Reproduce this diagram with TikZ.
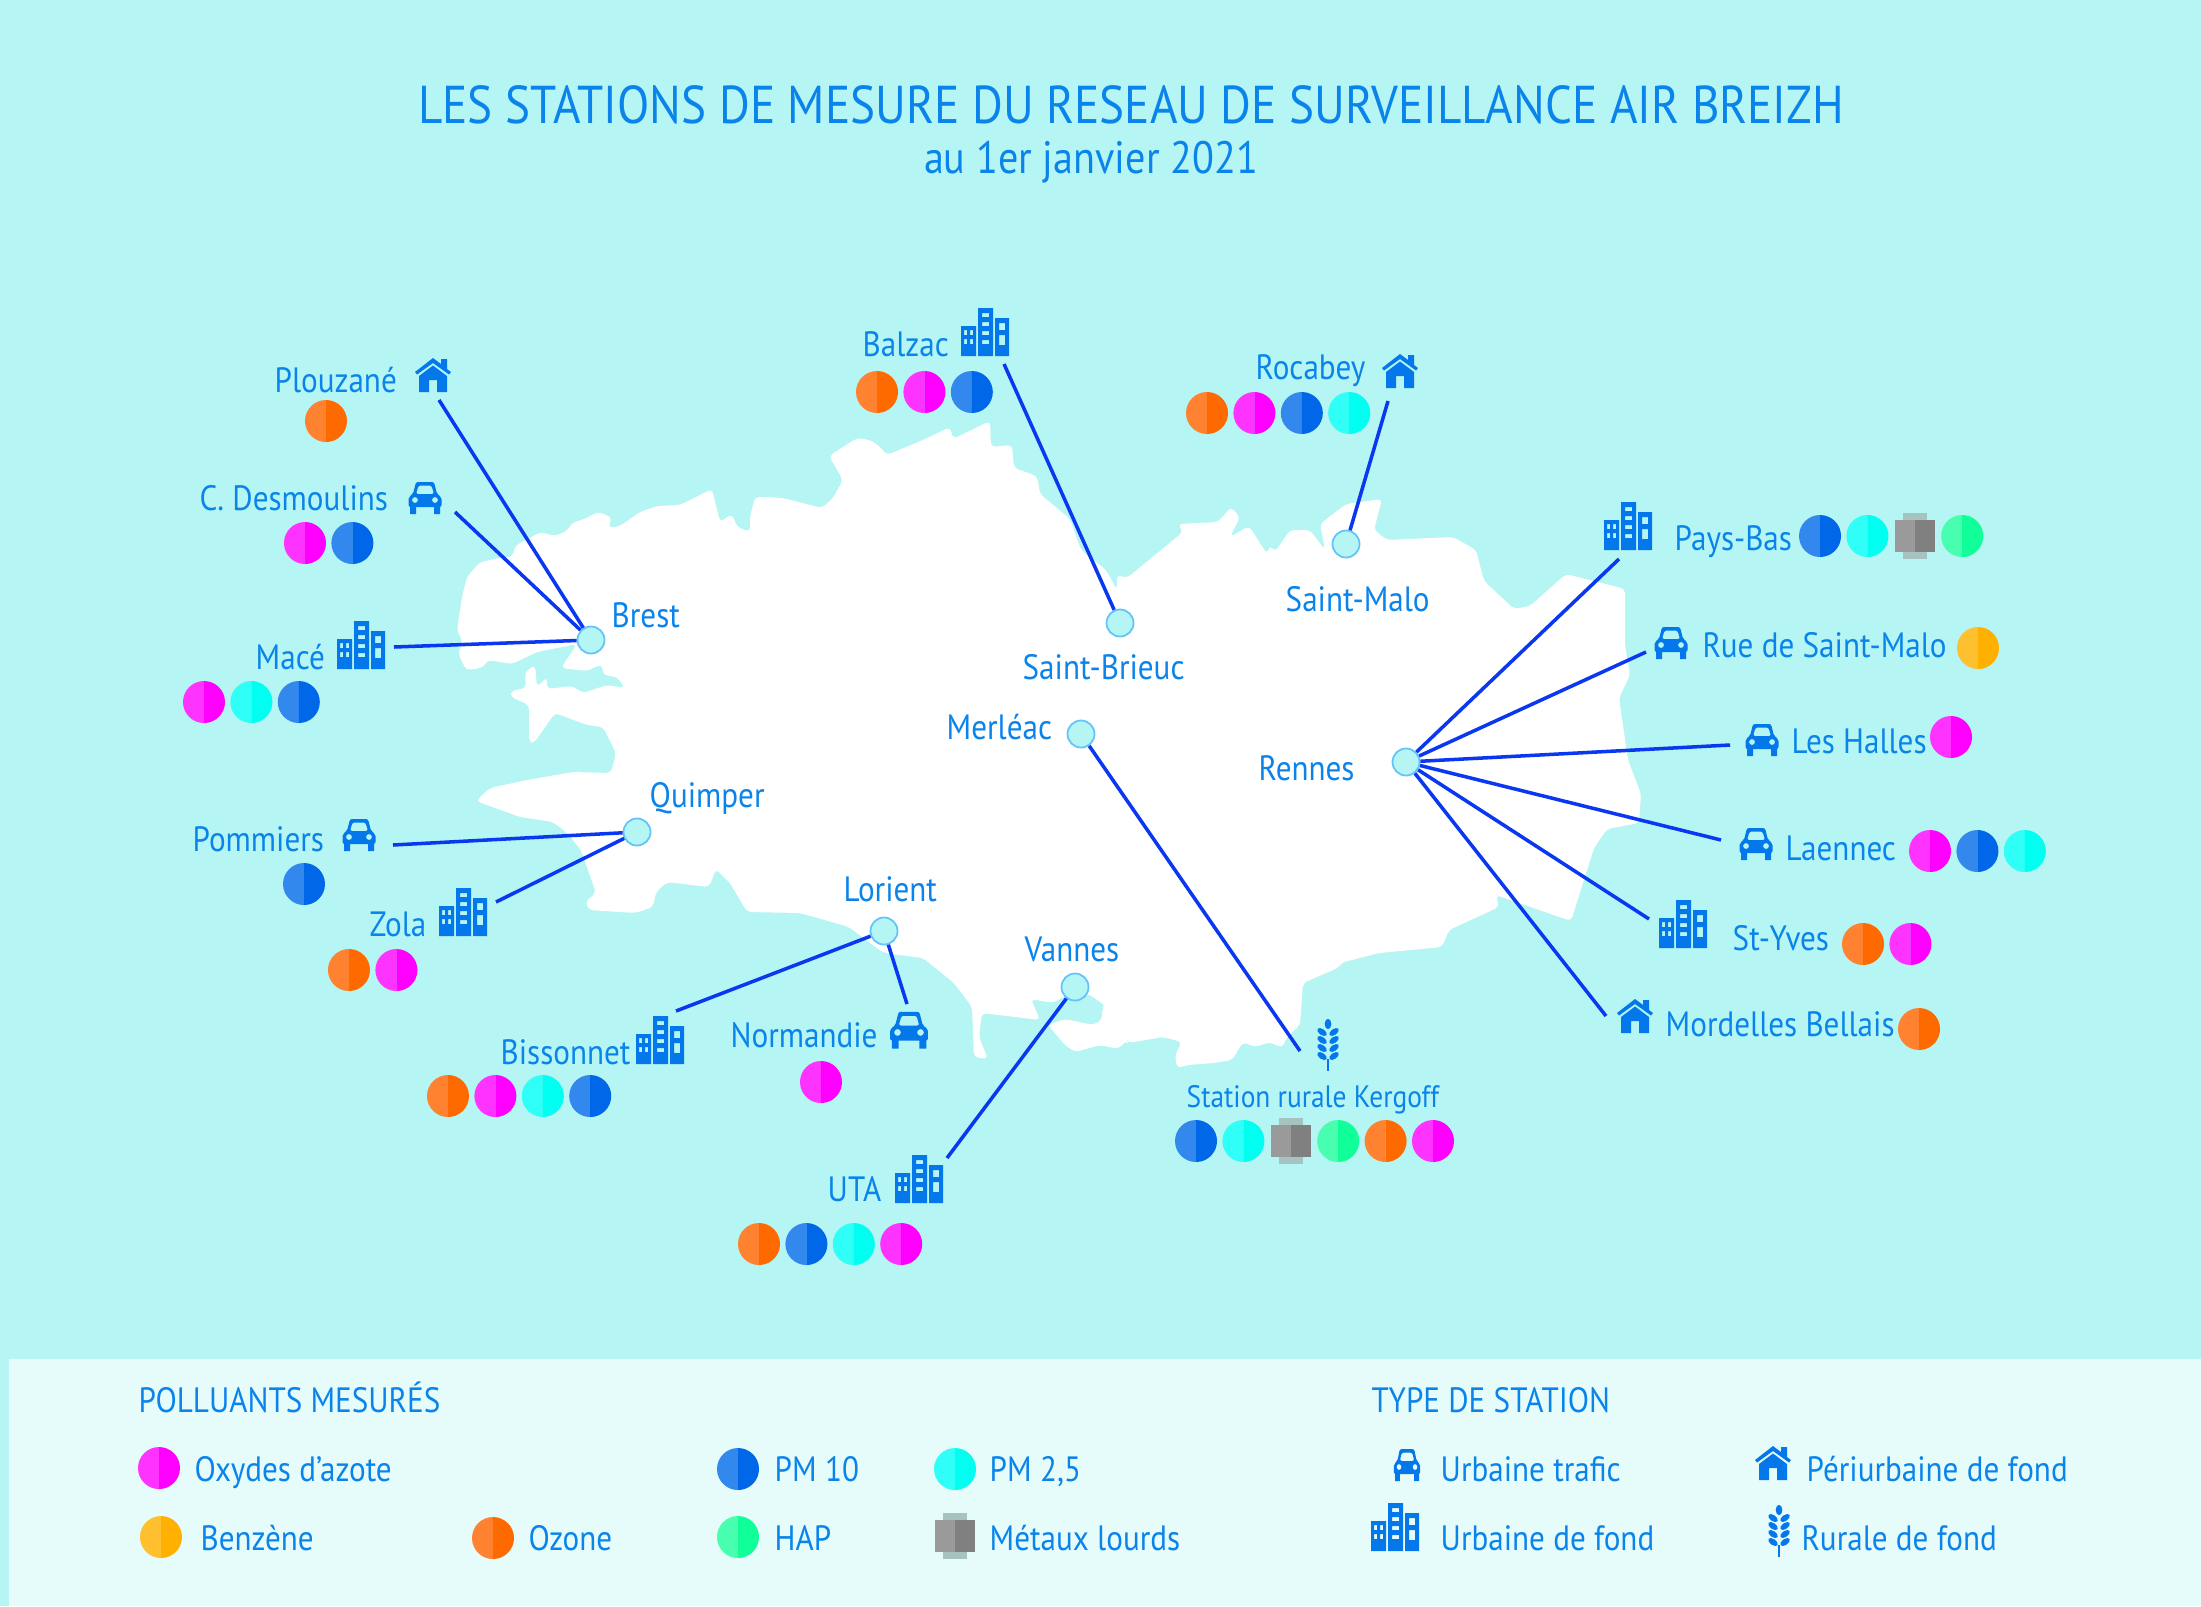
\documentclass[tikz,border=0pt]{standalone}
\usepackage{fontspec}
\setmainfont[FakeStretch=0.885]{PT Sans}
\usetikzlibrary{positioning}

\definecolor{sea}{HTML}{B5F5F3}
\definecolor{band}{HTML}{E6FCFA}
\definecolor{ink}{HTML}{0A84EA}
\definecolor{iconblue}{HTML}{0478EA}
\definecolor{wire}{HTML}{0A38F0}
\definecolor{hubline}{HTML}{62C4FA}
\definecolor{noxL}{HTML}{FF33FF}
\definecolor{noxR}{HTML}{FF00FF}
\definecolor{ozoneL}{HTML}{FF8230}
\definecolor{ozoneR}{HTML}{FF6A00}
\definecolor{pmtenL}{HTML}{3388EE}
\definecolor{pmtenR}{HTML}{0068E8}
\definecolor{pmfineL}{HTML}{30FFF8}
\definecolor{pmfineR}{HTML}{00FFF0}
\definecolor{hapL}{HTML}{48FFB0}
\definecolor{hapR}{HTML}{10FF98}
\definecolor{benzL}{HTML}{FFC030}
\definecolor{benzR}{HTML}{FFB000}
\definecolor{metalL}{HTML}{9A9A9A}
\definecolor{metalR}{HTML}{808080}

\tikzset{
  txt/.style={text=ink, font=\fontsize{10}{12}\selectfont, inner sep=0pt, anchor=west, text height=9pt, text depth=1.8pt},
  hub/.style={circle, fill=sea, draw=hubline, line width=0.5pt, minimum size=0.27cm, inner sep=0pt},
  link/.style={wire, line width=1pt},
  pics/dot/.style={code={
    \fill[fill=#1L] (0,-21) arc[start angle=90, end angle=270, radius=0.21cm] -- cycle;
    \fill[fill=#1R] (0,-21) arc[start angle=90, end angle=-90, radius=0.21cm] -- cycle;
  }},
  pics/metal/.style={code={
    \fill[metalL!55!sea] (-12,-23) rectangle (12,23);
    \fill[metalL] (-20,-16) rectangle (0,16);
    \fill[metalR] (0,-16) rectangle (20,16);
  }},
  pics/house/.style={code={
    \fill[iconblue] (-18,-3) -- (0,-17) -- (8,-11) -- (8,-16) -- (14,-16) -- (14,-6) -- (18,-3) -- (16,-0.5) -- (0,-12) -- (-16,-0.5) -- cycle;
    \fill[iconblue] (-14,1) -- (0,-9.5) -- (14,1) -- (14,17) -- (4,17) -- (4,5) -- (-4,5) -- (-4,17) -- (-14,17) -- cycle;
  }},
  pics/car/.style={code={
    \fill[iconblue, even odd rule, rounded corners=0.6pt] (-16.5,10) -- (-16.5,0) -- (-12,-3) -- (-9,-15) -- (9,-15) -- (12,-3) -- (16.5,0) -- (16.5,10) -- cycle
      (-9,-3) -- (-6.5,-11.5) -- (6.5,-11.5) -- (9,-3) -- cycle
      (-10,3) circle[radius=3] (10,3) circle[radius=3];
    \fill[iconblue] (-15,9) rectangle (-9,17) (9,9) rectangle (15,17);
  }},
  pics/building/.style={code={
    \fill[iconblue, even odd rule] (-24,-6) rectangle (-9,24)
      (-21,-2) rectangle (-18,3) (-15,-2) rectangle (-12,3) (-21,7) rectangle (-18,12) (-15,7) rectangle (-12,12);
    \fill[iconblue, even odd rule] (-7,-24) rectangle (8,24)
      (-3,-19) rectangle (4,-15) (-3,-10) rectangle (4,-6) (-3,-1) rectangle (4,3) (-3,8) rectangle (4,12);
    \fill[iconblue, even odd rule] (10,-14) rectangle (24,24)
      (14,-9) rectangle (20,-2) (14,3) rectangle (20,13);
  }},
  pics/wheat/.style={code={
    \fill[iconblue] (0,-21) ellipse[x radius=3.3, y radius=5.2];
    \foreach \leaf in {-13,-5,3,11} {
      \fill[iconblue, rotate around={35:(6,\leaf)}] (6,\leaf) ellipse[x radius=5.5, y radius=3];
      \fill[iconblue, rotate around={-35:(-6,\leaf)}] (-6,\leaf) ellipse[x radius=5.5, y radius=3];
    }
    \fill[iconblue] (-1.3,14) rectangle (1.3,26);
  }},
}

% row of pollutant dots, from the centre of the first one
\newcommand{\dotrow}[3]{%
  \def\metalname{metal}%
  \foreach \dotname [count=\i from 0] in {#3} {
    \ifx\dotname\metalname
      \pic at ({#1+\i*47.4},#2) {metal};
    \else
      \pic at ({#1+\i*47.4},#2) {dot=\dotname};
    \fi
  }%
}

\begin{document}
\begin{tikzpicture}[x=0.01cm, y=-0.01cm]

\useasboundingbox (0,0) rectangle (2201,1606);
\fill[sea] (0,0) rectangle (2201,1606);
\fill[band] (9,1359) rectangle (2201,1606);

% the region
\fill[white, rounded corners=1.2pt] (457,630) -- (462,597) -- (467,577) -- (480,562) -- (500,558) -- (512,557) -- (516,545) -- (530,538) -- (540,532) -- (555,536) -- (567,531) -- (572,523) -- (587,518) -- (597,512) -- (607,515) -- (612,519) -- (608,528) -- (620,526) -- (640,512) -- (657,506) -- (680,505) -- (712,489) -- (720,522) -- (732,514) -- (737,527) -- (750,532) -- (750,517) -- (755,497) -- (767,497) -- (783,498) -- (822,508)
  -- (833,498) -- (843,480) -- (829,456) -- (857,438) -- (870,440) -- (878,445) -- (887,455) -- (923,440) -- (950,427) -- (953,439) -- (990,421) -- (991,447) -- (1012,445) -- (1014,468) -- (1037,476) -- (1040,494) -- (1070,519) -- (1081,550) -- (1106,570) -- (1117,590) -- (1117,575) -- (1127,578) -- (1183,532) -- (1178,524) -- (1218,522) -- (1231,507) -- (1240,517) -- (1230,537) -- (1249,526) -- (1267,554) -- (1270,545) -- (1275,552) -- (1290,530) -- (1310,530) -- (1325,550) -- (1320,524) -- (1346,504) -- (1382,499) -- (1374,530) -- (1387,540) -- (1453,537)
  -- (1476,550) -- (1484,581) -- (1514,609) -- (1530,606) -- (1566,574) -- (1625,589) -- (1625,645) -- (1630,675) -- (1619,698) -- (1628,760) -- (1641,794) -- (1639,823) -- (1607,829) -- (1594,848) -- (1571,921) -- (1496,895) -- (1499,907) -- (1449,930) -- (1442,947) -- (1379,953) -- (1340,963) -- (1340,967) -- (1303,983) -- (1300,1025) -- (1287,1037) -- (1282,1048) -- (1270,1042) -- (1255,1047) -- (1243,1042) -- (1232,1060) -- (1213,1063) -- (1188,1065) -- (1177,1068) -- (1175,1055) -- (1182,1042) -- (1163,1037) -- (1128,1043) -- (1127,1040) -- (1118,1049) -- (1100,1045) -- (1075,1052) -- (1065,1045)
  -- (1048,1025) -- (1065,1019) -- (1093,1025) -- (1102,1020) -- (1102,1008) -- (1106,1006) -- (1090,995) -- (1075,990) -- (1053,1003) -- (1031,999) -- (1040,1020) -- (982,1013) -- (979,1037) -- (988,1059) -- (974,1057) -- (972,1007) -- (954,983) -- (923,958) -- (884,953) -- (870,943) -- (849,927) -- (800,913) -- (747,912) -- (730,883) -- (716,869) -- (709,887) -- (667,882) -- (656,892) -- (653,907) -- (635,913) -- (589,910) -- (585,902) -- (596,893) -- (581,850)
  -- (567,833) -- (553,822) -- (520,817) -- (476,801) -- (490,788) -- (527,780) -- (573,772) -- (611,773) -- (616,753) -- (603,727) -- (587,725) -- (555,713) -- (534,743) -- (529,742) -- (529,705) -- (511,697) -- (511,691) -- (526,688) -- (525,672) -- (535,665) -- (537,687) -- (547,677) -- (547,689) -- (572,686) -- (583,693) -- (607,685) -- (625,688) -- (617,677) -- (603,675) -- (602,664) -- (587,671) -- (561,668) -- (577,644) -- (537,652) -- (512,664) -- (488,660) -- (482,668) -- (466,670) -- (458,653) -- (463,643) -- cycle;

% title
\node[text=ink, font=\fontsize{15.15}{18}\selectfont] (title) at (1131,105) {LES STATIONS DE MESURE DU RESEAU DE SURVEILLANCE AIR BREIZH};
\node[text=ink, font=\fontsize{12.9}{15}\selectfont] (subtitle) at (1091,162) {au 1er janvier 2021};

% towns
\node[hub] (brest) at (591,640) {};
\node[hub] (quimper) at (637,832) {};
\node[hub] (brieuc) at (1120,623) {};
\node[hub] (malo) at (1346,544) {};
\node[hub] (merleac) at (1081,734) {};
\node[hub] (rennes) at (1406,762) {};
\node[hub] (lorient) at (884,931) {};
\node[hub] (vannes) at (1075,987) {};

\node[txt] (brestName) at (611,615) {Brest};
\node[txt] (quimperName) at (649,795) {Quimper};
\node[txt] (brieucName) at (1022,667) {Saint-Brieuc};
\node[txt] (maloName) at (1285,599) {Saint-Malo};
\node[txt] (merleacName) at (946,727) {Merléac};
\node[txt] (rennesName) at (1258,768) {Rennes};
\node[txt] (lorientName) at (843,889) {Lorient};
\node[txt] (vannesName) at (1024,949) {Vannes};

% stations on the west side
\node[txt] (plouzane) at (274,380) {Plouzané};
\pic at (433,375) {house};
\dotrow{326}{421}{ozone}
\coordinate (plouzaneEnd) at (439,400);
\draw[link] (brest) -- (plouzaneEnd);

\node[txt] (desmoulins) at (199,498) {C. Desmoulins};
\pic at (425,497) {car};
\dotrow{305}{543}{nox,pmten}
\coordinate (desmoulinsEnd) at (455,512);
\draw[link] (brest) -- (desmoulinsEnd);

\node[txt] (mace) at (255,657) {Macé};
\pic at (361,645) {building};
\dotrow{204}{702}{nox,pmfine,pmten}
\coordinate (maceEnd) at (394,647);
\draw[link] (brest) -- (maceEnd);

\node[txt] (pommiers) at (192,839) {Pommiers};
\pic at (359,834) {car};
\dotrow{304}{884}{pmten}
\coordinate (pommiersEnd) at (393,845);
\draw[link] (quimper) -- (pommiersEnd);

\node[txt] (zola) at (369,924) {Zola};
\pic at (463,912) {building};
\dotrow{349}{970}{ozone,nox}
\coordinate (zolaEnd) at (496,902);
\draw[link] (quimper) -- (zolaEnd);

\node[txt] (bissonnet) at (500,1052) {Bissonnet};
\pic at (660,1040) {building};
\dotrow{448}{1096}{ozone,nox,pmfine,pmten}
\coordinate (bissonnetEnd) at (676,1011);
\draw[link] (lorient) -- (bissonnetEnd);

\node[txt] (normandie) at (730,1035) {Normandie};
\pic[scale=1.15] at (909,1029) {car};
\dotrow{821}{1082}{nox}
\coordinate (normandieEnd) at (907,1004);
\draw[link] (lorient) -- (normandieEnd);

\node[txt] (uta) at (827,1189) {UTA};
\pic at (919,1179) {building};
\dotrow{759}{1244}{ozone,pmten,pmfine,nox}
\coordinate (utaEnd) at (947,1158);
\draw[link] (vannes) -- (utaEnd);

% north and centre
\node[txt, font=\fontsize{8.8}{10}\selectfont] (kergoff) at (1186,1095) {Station rurale Kergoff};
\pic at (1328,1045) {wheat};
\dotrow{1196}{1141}{pmten,pmfine,metal,hap,ozone,nox}
\coordinate (kergoffEnd) at (1300,1051);
\draw[link] (merleac) -- (kergoffEnd);

\node[txt] (balzac) at (862,344) {Balzac};
\pic at (985,332) {building};
\dotrow{877}{392}{ozone,nox,pmten}
\coordinate (balzacEnd) at (1004,364);
\draw[link] (brieuc) -- (balzacEnd);

\node[txt] (rocabey) at (1255,367) {Rocabey};
\pic at (1400,371) {house};
\dotrow{1207}{413}{ozone,nox,pmten,pmfine}
\coordinate (rocabeyEnd) at (1388,401);
\draw[link] (malo) -- (rocabeyEnd);

% stations around Rennes
\node[txt] (paysbas) at (1674,538) {Pays-Bas};
\pic at (1628,526) {building};
\dotrow{1820}{536}{pmten,pmfine,metal,hap}
\coordinate (paysbasEnd) at (1619,559);
\draw[link] (rennes) -- (paysbasEnd);

\node[txt] (ruemalo) at (1702,645) {Rue de Saint-Malo};
\pic at (1671,642) {car};
\dotrow{1978}{648}{benz}
\coordinate (ruemaloEnd) at (1646,652);
\draw[link] (rennes) -- (ruemaloEnd);

\node[txt] (halles) at (1791,741) {Les Halles};
\pic at (1762,739) {car};
\dotrow{1951}{737}{nox}
\coordinate (hallesEnd) at (1730,745);
\draw[link] (rennes) -- (hallesEnd);

\node[txt] (laennec) at (1785,848) {Laennec};
\pic at (1756,843) {car};
\dotrow{1930}{851}{nox,pmten,pmfine}
\coordinate (laennecEnd) at (1721,840);
\draw[link] (rennes) -- (laennecEnd);

\node[txt] (styves) at (1732,938) {St-Yves};
\pic at (1683,924) {building};
\dotrow{1863}{944}{ozone,nox}
\coordinate (styvesEnd) at (1649,919);
\draw[link] (rennes) -- (styvesEnd);

\node[txt] (mordelles) at (1665,1024) {Mordelles Bellais};
\pic at (1635,1016) {house};
\dotrow{1919}{1029}{ozone}
\coordinate (mordellesEnd) at (1606,1016);
\draw[link] (rennes) -- (mordellesEnd);

% legend
\node[txt] (polluants) at (138,1400) {POLLUANTS MESURÉS};
\dotrow{159}{1468}{nox}
\node[txt] (oxydes) at (194,1469) {Oxydes d’azote};
\dotrow{161}{1537}{benz}
\node[txt] (benzene) at (200,1538) {Benzène};
\dotrow{493}{1538}{ozone}
\node[txt] (ozone) at (528,1538) {Ozone};
\dotrow{738}{1469}{pmten}
\node[txt] (pmdix) at (774,1469) {PM 10};
\dotrow{738}{1537}{hap}
\node[txt] (hap) at (774,1538) {HAP};
\dotrow{955}{1469}{pmfine}
\node[txt] (pmdeux) at (989,1469) {PM 2,5};
\dotrow{955}{1536}{metal}
\node[txt] (metaux) at (989,1538) {Métaux lourds};

\node[txt] (types) at (1371,1400) {TYPE DE STATION};
\pic[xscale=0.8] at (1407,1464) {car};
\node[txt] (trafic) at (1440,1469) {Urbaine trafic};
\pic at (1395,1527) {building};
\node[txt] (fond) at (1440,1538) {Urbaine de fond};
\pic at (1773,1463) {house};
\node[txt] (periurbaine) at (1806,1469) {Périurbaine de fond};
\pic at (1779,1531) {wheat};
\node[txt] (rurale) at (1801,1538) {Rurale de fond};

\end{tikzpicture}
\end{document}
